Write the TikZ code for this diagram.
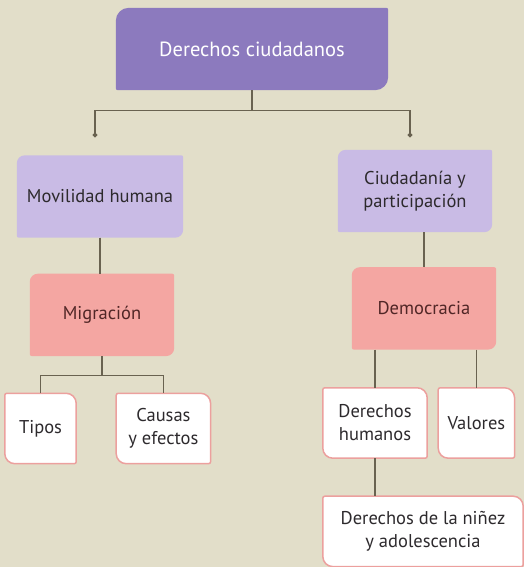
\documentclass[tikz,border=0pt]{standalone}
\usepackage{fontspec}
\setmainfont{PT Sans}
\usetikzlibrary{positioning,backgrounds}

\definecolor{pagebeige}{RGB}{226,222,201}
\definecolor{headpurple}{RGB}{140,122,190}
\definecolor{sublilac}{RGB}{201,187,229}
\definecolor{keypink}{RGB}{244,166,162}
\definecolor{rimpink}{RGB}{236,160,158}
\definecolor{linkgray}{RGB}{105,98,80}
\definecolor{textgray}{RGB}{45,42,45}
\definecolor{textbrown}{RGB}{80,38,38}

% box with rounded top left and bottom right corners
\newcommand\leafnw[3]{%
  \path[#2] ([xshift=#3]#1.north west) -- ([xshift=-2pt]#1.north east)
    arc[start angle=90, end angle=0, radius=2pt] -- ([yshift=#3]#1.south east)
    arc[start angle=0, end angle=-90, radius=#3] -- ([xshift=2pt]#1.south west)
    arc[start angle=270, end angle=180, radius=2pt] -- ([yshift=-#3]#1.north west)
    arc[start angle=180, end angle=90, radius=#3] -- cycle;}
% box with rounded top right and bottom left corners
\newcommand\leafne[3]{%
  \path[#2] ([xshift=2pt]#1.north west) -- ([xshift=-#3]#1.north east)
    arc[start angle=90, end angle=0, radius=#3] -- ([yshift=2pt]#1.south east)
    arc[start angle=0, end angle=-90, radius=2pt] -- ([xshift=#3]#1.south west)
    arc[start angle=270, end angle=180, radius=#3] -- ([yshift=-2pt]#1.north west)
    arc[start angle=180, end angle=90, radius=2pt] -- cycle;}

\tikzset{
  box/.style={inner sep=0pt, align=center, font=\fontsize{18.5}{23}\selectfont, text=textgray},
  headbox/.style={box, minimum width=272pt, minimum height=82pt, text=white,
    font=\fontsize{20.5}{24}\selectfont},
  subbox/.style={box, minimum height=82pt},
  keybox/.style={box, minimum width=144pt, minimum height=82pt, text=textbrown},
  leafbox/.style={box, minimum height=70pt},
  link/.style={draw=linkgray, fill=linkgray, line width=1.1pt},
}

\begin{document}
\begin{tikzpicture}[x=1pt, y=1pt]
  \begin{scope}[on background layer]
    \fill[pagebeige] (0,0) rectangle (524,567);
  \end{scope}
  \useasboundingbox (0,0) rectangle (524,567);

  \node[headbox] (tit) at (252,518) {Derechos ciudadanos};

  \node[subbox, minimum width=166pt] (mov) at (100,370.5) {Movilidad humana};
  \node[subbox, minimum width=154pt] (ciu) at (415,376) {Ciudadanía y\\participación};

  \node[keybox] (mig) [below=36pt of mov, xshift=2pt] {Migración};
  \node[keybox] (dem) [below=35pt of ciu, xshift=9pt] {Democracia};

  \node[leafbox, minimum width=71pt] (tip) at (40.5,138.5) {Tipos};
  \node[leafbox, minimum width=94pt] (cau) [right=40pt of tip] {Causas\\y efectos};
  \node[leafbox, minimum width=104pt] (dhu) at (375,144) {Derechos\\humanos};
  \node[leafbox, minimum width=76pt] (val) [right=11pt of dhu] {Valores};
  \node[leafbox, minimum width=200pt] (nin) [below=38pt of dhu, xshift=48pt] {Derechos de la niñez\\y adolescencia};

  \begin{scope}[on background layer]
    \leafnw{tit}{fill=headpurple}{13pt}
    \foreach \n in {mov,ciu} {\leafnw{\n}{fill=sublilac}{8pt}}
    \foreach \n in {mig,dem} {\leafnw{\n}{fill=keypink}{8pt}}
    \foreach \n in {tip,cau,dhu,val,nin} {\leafne{\n}{fill=white, draw=rimpink, line width=1.5pt}{10pt}}
  \end{scope}

  \coordinate[below=20pt of tit] (tj);
  \coordinate (jl) at (95,432);
  \coordinate (jr) at (410,432);
  \draw[link] (tit) -- (tj);
  \draw[link, fill=none] (jl) |- (tj) -| (jr);
  \fill[link] (jl) circle (1.8pt) (jr) circle (1.8pt);

  \draw[link] (mov.south) -- (mov.south |- mig.north);
  \draw[link] (ciu.south -| dem.north) -- (dem.north);

  \coordinate[below=19pt of mig] (mj);
  \draw[link] (mig) -- (mj);
  \draw[link, fill=none] (tip) |- (mj) -| (cau);

  \draw[link] (dhu) -- (dhu |- dem.south);
  \draw[link] (val) -- (val |- dem.south);
  \draw[link] (dhu) -- (dhu |- nin.north);
\end{tikzpicture}
\end{document}
